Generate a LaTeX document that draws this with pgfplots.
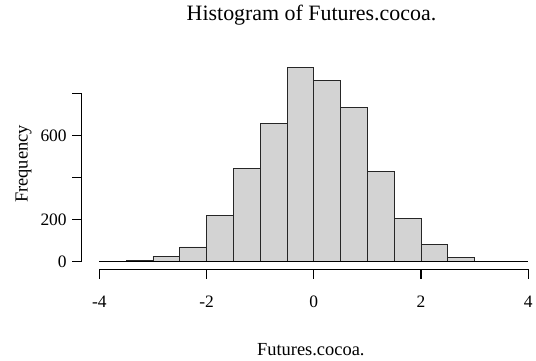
\documentclass[border=0pt]{standalone}
\usepackage{pgfplots}
\pgfplotsset{compat=1.18}
\usepackage{fontspec}
\setmainfont{Liberation Serif}
\definecolor{rgray}{RGB}{211,211,211}
\begin{document}
\begin{tikzpicture}
\useasboundingbox (0,0) rectangle (536bp,361bp);
\begin{axis}[
  at={(81.7bp,91.7bp)}, anchor=south west,
  scale only axis, width=464.2bp, height=210.4bp,
  xmin=-4.33, xmax=4.33, ymin=-37.2, ymax=964,
  axis line style={draw=none},
  axis x line*=bottom, axis y line*=left,
  tick align=outside, major tick length=9.5bp,
  tick style={black, line width=1.1bp},
  xtick={-4,-2,0,2,4}, xticklabels={-4,-2,0,2,4},
  ytick={0,200,400,600,800}, yticklabels={0,200,,600,},
  ticklabel style={font=\fontsize{17.5}{20}\selectfont},
  xticklabel style={anchor=base, yshift=-29bp},
  yticklabel style={anchor=east, xshift=-2bp},
  clip=false,
]
\addplot[ybar interval, fill=rgray, draw=black!85, line width=0.9bp]
  coordinates {(-3.5,4) (-3,26) (-2.5,69) (-2,220) (-1.5,441) (-1,655) (-0.5,925) (0,860) (0.5,731) (1,430) (1.5,204) (2,82) (2.5,17) (3,0)};
\addplot[black, line width=1.1bp] coordinates {(-4,0) (4,0)};
\draw[black, line width=1.1bp] (axis cs:-4,-37.2) -- (axis cs:4,-37.2);
\draw[black, line width=1.1bp] (axis cs:-4.33,0) -- (axis cs:-4.33,800);
\end{axis}
\node[anchor=base, font=\fontsize{22}{26}\selectfont] at (311.5bp,340.3bp) {Histogram of Futures.cocoa.};
\node[anchor=base, font=\fontsize{18.5}{22}\selectfont] at (310.8bp,6bp) {Futures.cocoa.};
\node[anchor=base, rotate=90, font=\fontsize{18.5}{22}\selectfont] at (27.5bp,197bp) {Frequency};
\end{tikzpicture}
\end{document}
